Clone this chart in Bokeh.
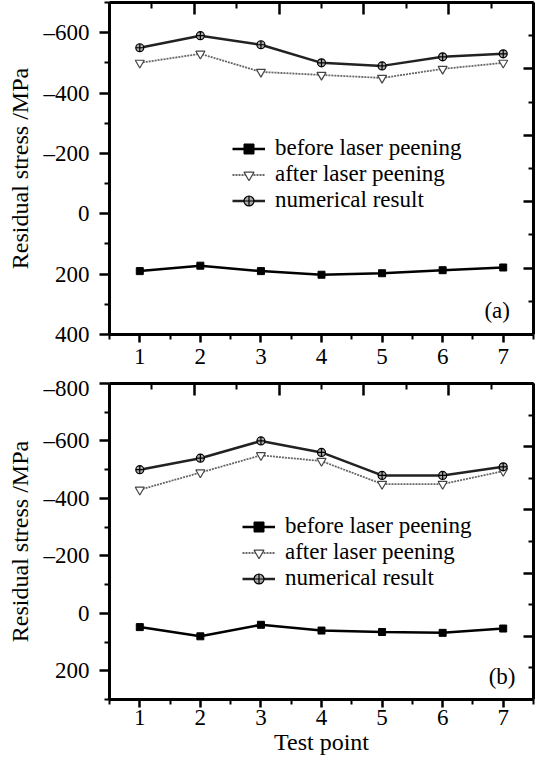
from bokeh.plotting import figure
from bokeh.models import (Range1d, LinearAxis, FixedTicker, Legend, LegendItem,
                          Label, CustomJSTickFormatter)
from bokeh.layouts import column
from bokeh.embed import file_html
from bokeh.resources import INLINE

# ---------------- data ----------------
test_points = [1, 2, 3, 4, 5, 6, 7]

before_a = [190, 172, 190, 202, 197, 187, 178]
after_a = [-500, -530, -470, -460, -450, -480, -500]
numerical_a = [-550, -590, -560, -500, -490, -520, -530]

before_b = [48, 80, 40, 60, 65, 68, 53]
after_b = [-430, -490, -550, -530, -450, -450, -495]
numerical_b = [-500, -540, -600, -560, -480, -480, -510]

x_ticks = [1, 2, 3, 4, 5, 6, 7]
x_minor = [0.5, 1.5, 2.5, 3.5, 4.5, 5.5, 6.5, 7.5]
x_labels = ["1", "2", "3", "4", "5", "6", "7"]

y_ticks_a = [-600, -400, -200, 0, 200, 400]
y_labels_a = ["\u2013600", "\u2013400", "\u2013200", "0", "200", "400"]
y_minor_a = [-700, -500, -300, -100, 100, 300]

y_ticks_b = [-800, -600, -400, -200, 0, 200]
y_labels_b = ["\u2013800", "\u2013600", "\u2013400", "\u2013200", "0", "200"]
y_minor_b = [-700, -500, -300, -100, 100, 300]

mirror_ticks = [0, 1, 2, 3, 4, 5]
mirror_minor = [0.5, 1.5, 2.5, 3.5, 4.5]

series_names = ["before laser peening", "after laser peening", "numerical result"]

FONT = "Liberation Serif"


def style_axis(ax):
    ax.axis_line_width = 3
    ax.axis_line_color = "black"
    ax.major_tick_line_width = 2.5
    ax.minor_tick_line_width = 2
    ax.major_tick_line_color = "black"
    ax.minor_tick_line_color = "black"
    ax.major_label_text_font = FONT
    ax.major_label_text_font_size = "23px"
    ax.major_label_text_color = "black"
    ax.axis_label_text_font = FONT
    ax.axis_label_text_font_size = "24px"
    ax.axis_label_text_font_style = "normal"
    ax.axis_label_text_color = "black"


def panel(before, after, numerical, y_start, y_end, y_ticks, y_labels, y_minor,
          tag, tag_x, tag_y, leg_xy, height, top, bottom, xlabel, x_standoff):
    p = figure(width=538, height=height,
               x_range=Range1d(0.5, 7.5), y_range=Range1d(y_start, y_end),
               x_axis_type=None, y_axis_type=None,
               output_backend="svg", toolbar_location=None,
               min_border_left=109, min_border_right=5,
               min_border_top=top, min_border_bottom=bottom)
    p.outline_line_color = None
    p.background_fill_color = "white"
    p.border_fill_color = "white"

    p.extra_x_ranges = {"top": Range1d(0, 5)}
    p.extra_y_ranges = {"right": Range1d(0, 5)}

    # bottom axis
    xb = LinearAxis(ticker=FixedTicker(ticks=x_ticks, minor_ticks=x_minor))
    style_axis(xb)
    xb.major_label_overrides = {t: l for t, l in zip(x_ticks, x_labels)}
    xb.major_tick_out = 8
    xb.major_tick_in = 0
    xb.minor_tick_out = 5
    xb.minor_tick_in = 0
    xb.major_label_standoff = x_standoff
    if xlabel:
        xb.axis_label = xlabel
        xb.axis_label_standoff = 1
    p.add_layout(xb, "below")

    # left axis
    yl = LinearAxis(ticker=FixedTicker(ticks=y_ticks, minor_ticks=y_minor))
    style_axis(yl)
    yl.major_label_overrides = {t: l for t, l in zip(y_ticks, y_labels)}
    yl.major_tick_out = 10
    yl.major_tick_in = 0
    yl.minor_tick_out = 5
    yl.minor_tick_in = 0
    yl.major_label_standoff = 10
    yl.axis_label = "Residual stress /MPa"
    yl.axis_label_standoff = 8
    p.add_layout(yl, "left")

    # mirror axes (top / right), ticks inward, no labels
    xt = LinearAxis(x_range_name="top",
                    ticker=FixedTicker(ticks=mirror_ticks, minor_ticks=mirror_minor),
                    formatter=CustomJSTickFormatter(code="return ''"))
    style_axis(xt)
    xt.major_tick_out = 0
    xt.major_tick_in = 12
    xt.minor_tick_out = 0
    xt.minor_tick_in = 6
    xt.major_label_standoff = 0
    xt.major_label_text_font_size = "1px"
    p.add_layout(xt, "above")

    yr = LinearAxis(y_range_name="right",
                    ticker=FixedTicker(ticks=mirror_ticks, minor_ticks=mirror_minor),
                    formatter=CustomJSTickFormatter(code="return ''"))
    style_axis(yr)
    yr.major_tick_out = 0
    yr.major_tick_in = 10
    yr.minor_tick_out = 0
    yr.minor_tick_in = 5
    yr.major_label_standoff = 0
    yr.major_label_text_font_size = "1px"
    p.add_layout(yr, "right")

    # series
    l1 = p.line(test_points, before, line_color="black", line_width=2.5)
    s1 = p.scatter(test_points, before, marker="square", size=7,
                   fill_color="black", line_color="black")
    l2 = p.line(test_points, after, line_color="#666666", line_width=1.8,
                line_dash="2 1")
    s2 = p.scatter(test_points, after, marker="inverted_triangle", size=9,
                   fill_color="white", line_color="#444444", line_width=1.2)
    l3 = p.line(test_points, numerical, line_color="#222222", line_width=2.5)
    s3 = p.scatter(test_points, numerical, marker="circle_cross", size=8,
                   fill_color="#aaaaaa", line_color="black", line_width=1.2)

    legend = Legend(items=[
        LegendItem(label=series_names[0], renderers=[l1, s1]),
        LegendItem(label=series_names[1], renderers=[l2, s2]),
        LegendItem(label=series_names[2], renderers=[l3, s3]),
    ], location=leg_xy)
    legend.border_line_color = None
    legend.background_fill_alpha = 0
    legend.padding = 0
    legend.margin = 0
    legend.spacing = 0
    legend.glyph_width = 33
    legend.glyph_height = 25
    legend.label_height = 25
    legend.label_standoff = 10
    legend.label_text_font = FONT
    legend.label_text_font_size = "23px"
    legend.label_text_color = "black"
    p.add_layout(legend)

    p.add_layout(Label(x=tag_x, y=tag_y, text=tag, text_font=FONT,
                       text_font_size="23px", text_baseline="middle",
                       text_align="left", text_color="black"))
    return p


pa = panel(before_a, after_a, numerical_a, 400, -700, y_ticks_a, y_labels_a, y_minor_a,
           "(a)", 6.69, 320, (123, 121), 375, 2, 41, None, 6)
pb = panel(before_b, after_b, numerical_b, 300, -800, y_ticks_b, y_labels_b, y_minor_b,
           "(b)", 6.76, 220, (133, 108), 389, 8, 65, "Test point", 2)

layout = column(pa, pb, spacing=0)
open("out.html", "w").write(file_html(layout, INLINE))
